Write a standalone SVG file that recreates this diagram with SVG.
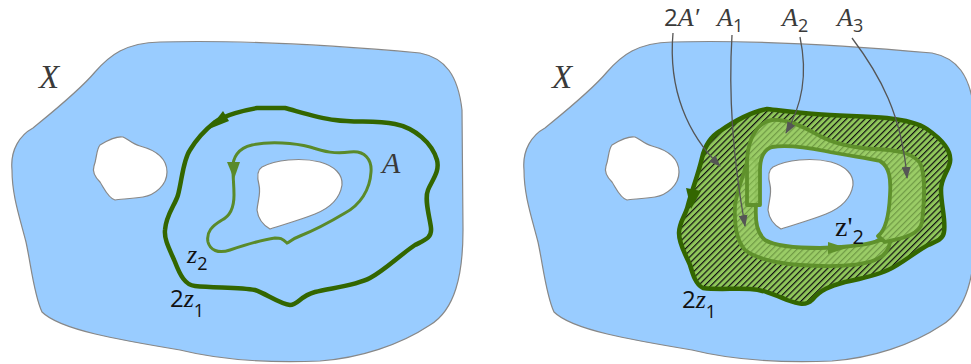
<svg xmlns="http://www.w3.org/2000/svg" width="971" height="364" viewBox="0 0 971 364">
<defs>
<style>
.space{fill:#99ccff;stroke:#888;stroke-width:1.2}
.hole{fill:#fff;stroke:#888;stroke-width:1.2}
.z1{fill:none;stroke:#336600;stroke-width:4.5;stroke-linejoin:round}
.z2{fill:none;stroke:#5a8a2a;stroke-width:3}
.band{fill:url(#hatchL);stroke:#5f912c;stroke-width:3.8;stroke-linejoin:round;fill-opacity:0.85}
.lbl{font-family:"Liberation Serif","DejaVu Serif",serif;font-style:italic;fill:#3a3a3a}
.num{font-family:"Open Sans","DejaVu Sans",sans-serif;font-style:normal}
.zl{font-family:"Liberation Serif","DejaVu Serif",serif;font-style:italic;fill:#111}
.ptr{fill:none;stroke:#555;stroke-width:1.3;marker-end:url(#ah)}
</style>
<pattern id="hatchD" patternUnits="userSpaceOnUse" width="4.4" height="4.4" patternTransform="rotate(45)">
<rect width="4.4" height="4.4" fill="#8fc65a"/>
<rect width="1.2" height="4.4" fill="#111"/>
</pattern>
<pattern id="hatchL" patternUnits="userSpaceOnUse" width="4.4" height="4.4" patternTransform="rotate(45)">
<rect width="4.4" height="4.4" fill="#9ccd68"/>
<rect width="1.2" height="4.4" fill="#80b24e"/>
</pattern>
<marker id="ah" viewBox="0 0 12 9" refX="11" refY="4.5" markerWidth="12" markerHeight="9" markerUnits="userSpaceOnUse" orient="auto">
<path d="M0,0 L12,4.5 L0,9 z" fill="#555"/>
</marker>
<path id="blob" d="M12,170 C10,150 20,135 33,128 C55,110 80,90 95,72 C110,55 125,43 160,42 C230,40 330,45 420,53 C445,58 458,75 462,110 L463,230 C463,275 455,310 430,325 C400,345 360,358 320,361 C270,363 220,360 180,350 C120,340 60,330 42,312 C34,295 31,265 26,242 C19,215 12,195 12,170 Z"/>
<path id="smallhole" d="M100,145 C108,140 118,136 123,137 C128,139 132,144 140,146 C155,150 167,158 167,172 C167,185 155,195 143,197 C130,199 120,199 115,200 C108,198 104,188 100,182 C95,177 92,172 94,166 C97,158 96,150 100,145 Z"/>
<path id="bighole" d="M262,167 C275,160 300,157 320,162 C335,166 343,175 342,185 C340,198 330,208 315,214 C300,220 285,224 270,229 C263,225 258,218 257,210 C258,200 261,193 259,185 C257,177 257,170 262,167 Z"/>
</defs>
<rect width="971" height="364" fill="#fff"/>

<g id="left-space">
<use href="#blob" class="space"/>
<use href="#smallhole" class="hole"/>
<use href="#bighole" class="hole"/>
<text class="lbl" x="39" y="88" font-size="33">X</text>
</g>

<g id="left-z1">
<path class="z1" d="M257,108 L285,108 C300,112 318,118 335,120 C355,123 375,120 395,124 C415,128 432,143 437,160 C440,172 432,180 428,190 C424,200 430,218 431,228 C432,238 425,240 415,245 C400,255 385,270 370,278 C355,286 330,288 315,292 C300,296 298,305 290,305 C280,304 265,293 255,290 C240,287 215,288 195,286 C185,285 180,275 175,262 C170,250 164,240 165,230 C166,215 175,205 178,195 C182,180 183,160 190,150 C196,140 205,130 215,122 C225,115 245,110 257,108 Z"/>
<polygon points="209,129 229,121 223,111" fill="#336600"/>
<text class="zl" x="170" y="307" font-size="26"><tspan class="num" font-size="24">2</tspan>z<tspan class="num" font-size="18" dy="10">1</tspan></text>
</g>

<g id="left-z2">
<path class="z2" d="M233,170 C232,158 238,148 252,145 C270,141 295,143 310,147 C325,152 335,154 350,152 C365,150 372,160 371,172 C370,190 360,205 345,213 C330,222 315,230 300,236 C292,239 290,242 287,243 C282,238 280,238 275,238 C260,240 245,245 230,250 C218,254 210,250 208,242 C206,232 212,226 222,220 C232,215 234,205 234,195 C234,185 233,178 233,170 Z"/>
<polygon points="227,162 240,162 234,179" fill="#5a8a2a"/>
<text class="zl" x="187" y="263" font-size="26">z<tspan class="num" font-size="18" dy="7">2</tspan></text>
</g>

<g id="left-A">
<text class="lbl" x="382" y="173" font-size="30">A</text>
</g>

<g id="right-space">
<use href="#blob" class="space" transform="translate(512,0)"/>
<use href="#smallhole" class="hole" transform="translate(512,0)"/>
<text class="lbl" x="552" y="88" font-size="33">X</text>
</g>

<g id="right-2A">
<path fill="url(#hatchD)" d="M767,109 C785,111 800,113 815,114 C840,116 865,116 887,118 C905,120 918,123 927,129 C940,138 952,150 950,162 C948,172 941,178 941,190 C941,205 946,220 944,232 C943,240 935,242 928,245 C915,252 900,265 888,270 C875,276 860,279 845,282 C830,286 820,290 812,300 C806,306 798,304 787,300 C775,295 765,290 750,289 C735,288 718,290 703,288 C696,285 693,275 690,265 C686,255 679,245 679,233 C679,222 686,215 688,205 C692,190 698,175 702,158 C705,145 710,137 720,131 C733,122 750,112 767,109 Z"/>
<path fill="#99ccff" d="M760,170 C760,158 765,148 775,147 C790,146 810,149 825,151 C845,155 865,158 880,161 C890,167 891,180 890,195 C889,215 886,230 878,238 C870,245 850,247 820,248 C795,248 775,246 765,240 C757,233 755,222 756,205 Z"/>
</g>

<g id="right-A1">
<path class="band" d="M748,158 C745,172 737,190 735,205 C734,225 736,240 745,250 C755,258 775,263 800,265 C830,267 860,266 875,260 C885,256 890,248 890,240 L880,240 C870,245 850,247 820,248 C795,248 775,246 765,240 C757,233 755,222 756,205 C757,185 758,170 756,160 Z"/>
</g>

<g id="right-A2A3">
<path class="band" d="M747,205 L747,160 C748,138 758,122 772,120 C790,119 805,128 820,136 C835,144 855,148 875,149 C895,150 912,152 920,163 C926,175 924,205 922,222 C920,234 905,238 885,242 L878,236 C886,230 889,215 890,195 C891,180 890,167 880,161 C865,158 845,155 825,151 C805,147 785,145 772,147 C763,150 760,160 760,170 L760,205 Z"/>
</g>

<g id="right-hole">
<use href="#bighole" class="hole" transform="translate(511,0)"/>
</g>

<g id="right-z1">
<path class="z1" d="M767,109 C785,111 800,113 815,114 C840,116 865,116 887,118 C905,120 918,123 927,129 C940,138 952,150 950,162 C948,172 941,178 941,190 C941,205 946,220 944,232 C943,240 935,242 928,245 C915,252 900,265 888,270 C875,276 860,279 845,282 C830,286 820,290 812,300 C806,306 798,304 787,300 C775,295 765,290 750,289 C735,288 718,290 703,288 C696,285 693,275 690,265 C686,255 679,245 679,233 C679,222 686,215 688,205 C692,190 698,175 702,158 C705,145 710,137 720,131 C733,122 750,112 767,109 Z"/>
<polygon points="686,188 701,191 691,209" fill="#336600"/>
<text class="zl" x="682" y="308" font-size="26"><tspan class="num" font-size="24">2</tspan>z<tspan class="num" font-size="18" dy="10">1</tspan></text>
</g>

<g id="right-z2">
<polygon points="828,242 847,248 828,254" fill="#5f912c"/>
<text x="835" y="236" font-size="28" font-family="Liberation Serif,DejaVu Serif,serif" fill="#111">z'<tspan class="num" font-size="20" dy="8">2</tspan></text>
</g>

<g id="labels">
<text class="lbl" x="664" y="26" font-size="26"><tspan class="num" font-size="24">2</tspan>A′</text>
<text class="lbl" x="717" y="26" font-size="26">A<tspan class="num" font-size="18" dy="6">1</tspan></text>
<text class="lbl" x="782" y="26" font-size="26">A<tspan class="num" font-size="18" dy="6">2</tspan></text>
<text class="lbl" x="837" y="26" font-size="26">A<tspan class="num" font-size="18" dy="6">3</tspan></text>
</g>

<g id="connectors">
<path class="ptr" d="M673,33 C668,90 688,135 720,166"/>
<path class="ptr" d="M732,35 C728,100 735,170 745,226"/>
<path class="ptr" d="M800,37 C808,75 802,105 786,133"/>
<path class="ptr" d="M852,38 C880,75 902,115 907,178"/>
</g>
</svg>
